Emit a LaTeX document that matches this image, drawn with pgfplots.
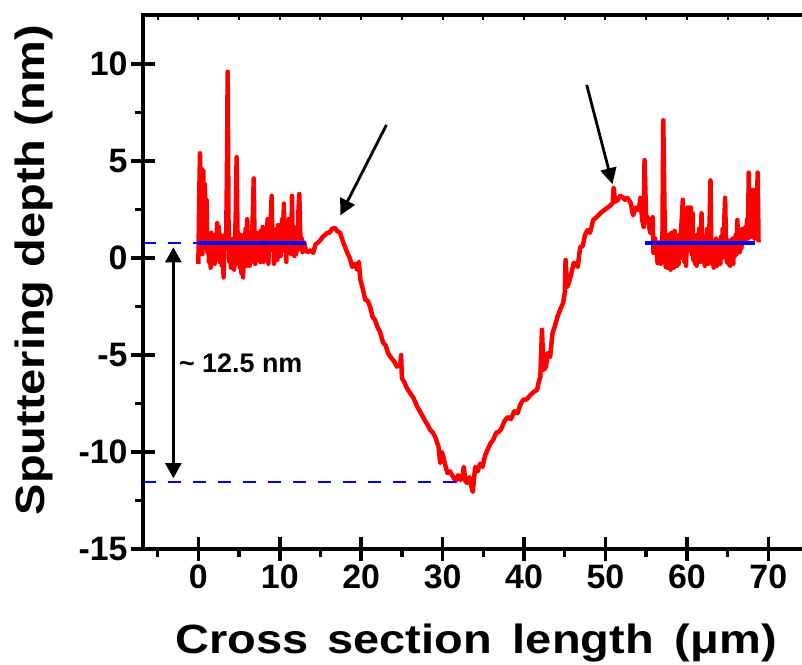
\documentclass[border=0pt]{standalone}
\usepackage{pgfplots}
\pgfplotsset{compat=1.18}
\usepackage{fontspec}
\setmainfont{Liberation Sans}
\newfontfamily\widesans{Liberation Sans}[FakeStretch=1.15]
\usetikzlibrary{arrows.meta}

\newcommand{\tickfont}{\fontsize{34}{40}\selectfont\bfseries}
\newcommand{\labfont}{\widesans\fontsize{41}{48}\selectfont\bfseries}

\begin{document}
\begin{tikzpicture}
\useasboundingbox (-143bp,-116bp) rectangle (659bp,549bp);
\clip (-143bp,-116bp) rectangle (659bp,549bp);
\begin{axis}[
    at={(0,0)}, anchor=south west,
    scale only axis,
    width=666bp, height=533.5bp,
    xmin=-6.8, xmax=75,
    ymin=-15, ymax=12.5,
    xtick={0,10,...,70},
    minor xtick={-5,5,...,75},
    ytick={-15,-10,...,10},
    minor ytick={-12.5,-7.5,...,7.5},
    xtick pos=bottom, ytick pos=left,
    tick align=center,
    major tick length=24bp, minor tick length=8bp,
    minor x tick style={yshift=-4bp},
    minor y tick style={xshift=-4bp},
    axis line style={line width=4bp},
    tick style={line width=3.5bp, black},
    ticklabel style={font=\tickfont},
    /pgf/number format/assume math mode=true,
    xlabel={Cross\hspace{6bp} section\hspace{8bp} length\hspace{8bp} (μm)},
    ylabel={Sputtering depth (nm)},
    xlabel style={at={(axis description cs:0.5,-0.1968)}, anchor=base, font=\labfont},
    ylabel style={at={(axis description cs:-0.1637,0.523)}, anchor=center, font=\labfont},
]
% measured profile
\addplot[red, line width=4.5bp, line join=round] coordinates {
(0.00,-0.3) (0.10,3.0) (0.20,5.4) (0.30,1.0) (0.40,4.6) (0.50,0.2) (0.60,4.5) (0.70,2.0)
(0.80,3.8) (0.90,0.5) (1.00,3.0) (1.10,0.3) (1.20,1.2) (1.30,-0.2) (1.40,1.0) (1.50,-0.5)
(1.60,1.3) (1.70,0.0) (1.80,1.0) (1.90,0.6) (2.00,-0.3) (2.10,1.2) (2.20,0.1) (2.30,1.8)
(2.40,0.3) (2.50,1.6) (2.60,-0.2) (2.70,1.2) (2.80,0.5) (2.90,-0.4) (3.00,0.3) (3.10,-1.0)
(3.20,0.8) (3.30,1.2) (3.40,0.5) (3.50,4.0) (3.60,9.6) (3.70,2.0) (3.80,-0.2) (3.90,0.7)
(4.00,-0.5) (4.10,0.9) (4.20,-0.4) (4.30,1.0) (4.40,-0.6) (4.50,0.8) (4.60,2.5) (4.70,5.2)
(4.80,1.5) (4.90,-0.3) (5.00,0.9) (5.10,-0.5) (5.20,1.2) (5.30,-0.8) (5.40,0.4) (5.50,-1.0)
(5.60,0.7) (5.70,0.1) (5.80,1.5) (5.90,-0.4) (6.00,2.0) (6.10,0.2) (6.20,1.0) (6.30,-0.4)
(6.40,1.3) (6.50,-0.2) (6.60,1.0) (6.70,2.5) (6.80,4.1) (6.90,0.8) (7.00,-0.3) (7.10,1.2)
(7.20,-0.1) (7.30,1.3) (7.40,0.0) (7.50,1.1) (7.60,-0.2) (7.70,1.4) (7.80,0.2) (7.90,1.6)
(8.00,-0.2) (8.10,0.9) (8.20,0.1) (8.30,1.2) (8.40,0.5) (8.50,2.0) (8.60,-0.3) (8.70,1.5)
(8.80,0.4) (8.90,2.0) (9.00,3.2) (9.10,0.5) (9.20,1.2) (9.30,-0.3) (9.40,1.0) (9.50,0.2)
(9.60,1.5) (9.70,-0.1) (9.80,1.7) (9.90,0.3) (10.00,1.2) (10.10,0.1) (10.20,1.0) (10.30,2.0)
(10.40,0.4) (10.50,2.8) (10.60,0.4) (10.70,1.4) (10.80,-0.2) (10.90,1.2) (11.00,0.3) (11.10,2.0)
(11.20,0.8) (11.30,1.4) (11.40,0.2) (11.50,3.2) (11.60,0.6) (11.70,1.6) (11.80,0.1) (11.90,1.3)
(12.00,0.2) (12.10,1.5) (12.20,0.4) (12.30,2.5) (12.40,3.3) (12.50,1.4) (12.60,0.6) (12.70,1.0)
(12.80,0.3) (12.90,0.6) (13.00,0.8) (13.20,0.4) (13.40,0.3) (13.60,0.35) (13.80,0.4) (14.10,0.26)
(14.40,0.7) (14.70,0.8) (15.00,0.93) (15.30,1.1) (15.60,1.2) (15.80,1.29) (16.10,1.3) (16.40,1.5)
(16.80,1.55) (17.00,1.4) (17.40,1.3) (17.80,0.8) (18.30,0.26) (18.60,0.0) (18.90,-0.46) (19.20,-0.3)
(19.50,-0.6) (19.70,-0.2) (19.90,-1.13) (20.20,-1.6) (20.50,-2.16) (20.80,-2.2) (21.10,-2.53) (21.40,-3.04)
(21.70,-3.2) (22.00,-3.56) (22.30,-3.8) (22.70,-4.38) (23.00,-4.5) (23.30,-4.9) (23.60,-5.1) (24.00,-5.3)
(24.40,-5.6) (24.80,-5.5) (24.90,-5.0) (25.00,-6.2) (25.30,-6.4) (25.60,-6.7) (26.00,-6.96) (26.40,-7.2)
(26.90,-7.68) (27.20,-7.9) (27.60,-8.2) (28.00,-8.5) (28.50,-8.87) (28.80,-9.0) (29.10,-9.23) (29.50,-9.74)
(29.70,-10.57) (29.90,-10.0) (30.10,-10.26) (30.40,-10.8) (30.60,-11.08) (30.90,-11.0) (31.30,-11.29) (31.60,-11.5)
(31.90,-11.2) (32.20,-11.44) (32.50,-11.1) (32.60,-10.77) (32.80,-11.5) (33.00,-11.6) (33.30,-11.3) (33.50,-11.7)
(33.70,-12.06) (33.90,-11.2) (34.00,-10.77) (34.30,-11.0) (34.60,-10.6) (34.90,-10.77) (35.20,-10.2) (35.50,-9.9)
(35.90,-9.54) (36.20,-9.38) (36.60,-9.0) (36.90,-8.97) (37.20,-8.8) (37.60,-8.4) (38.00,-8.2) (38.40,-8.3)
(38.80,-7.9) (39.20,-8.0) (39.50,-7.6) (39.90,-7.3) (40.30,-7.3) (40.80,-7.06) (41.20,-6.9) (41.60,-6.8)
(41.80,-6.4) (42.00,-6.13) (42.20,-3.7) (42.40,-5.77) (42.70,-5.6) (42.90,-4.9) (43.20,-5.1) (43.50,-3.87)
(43.80,-3.5) (44.10,-3.04) (44.50,-2.6) (44.80,-2.32) (45.00,-1.8) (45.10,-0.1) (45.30,-1.5) (45.50,-1.29)
(45.80,-0.8) (46.10,-0.26) (46.40,-0.3) (46.60,-0.46) (46.90,0.57) (47.20,0.6) (47.50,1.2) (47.80,1.44)
(48.10,1.3) (48.50,1.96) (48.90,2.1) (49.40,2.32) (49.80,2.45) (50.20,2.58) (50.60,2.7) (50.90,2.84)
(51.00,3.6) (51.20,2.9) (51.50,2.99) (51.80,3.2) (52.10,3.14) (52.40,3.0) (52.70,3.1) (53.10,2.84)
(53.40,2.2) (53.70,2.6) (54.10,2.47) (54.30,3.1) (54.50,2.0) (54.70,1.6) (54.80,5.05) (55.00,2.0)
(55.20,2.1) (55.50,1.29) (55.80,2.1) (55.90,0.26) (56.10,1.0) (56.40,-0.26) (56.60,0.8) (56.80,-0.3)
(57.00,1.0) (57.10,7.1) (57.30,1.0) (57.40,-0.46) (57.50,0.8) (57.60,-0.5) (57.70,1.2) (57.80,-0.3)
(57.90,0.9) (58.00,-0.6) (58.10,1.3) (58.20,-0.2) (58.30,0.7) (58.40,-0.5) (58.50,1.4) (58.60,-0.1)
(58.70,0.8) (58.80,-0.4) (58.90,1.0) (59.00,-0.3) (59.10,1.2) (59.20,0.0) (59.30,1.5) (59.40,2.2)
(59.50,3.0) (59.60,1.0) (59.70,-0.2) (59.80,0.9) (59.90,-0.4) (60.00,1.3) (60.10,2.6) (60.20,0.4)
(60.30,2.6) (60.40,1.0) (60.50,2.6) (60.60,0.2) (60.70,2.3) (60.80,-0.1) (60.90,1.1) (61.00,-0.3)
(61.10,0.8) (61.20,-0.4) (61.30,1.2) (61.40,0.1) (61.50,1.5) (61.60,-0.2) (61.70,0.9) (61.80,2.3)
(61.90,0.6) (62.00,-0.2) (62.10,0.9) (62.20,-0.4) (62.30,1.1) (62.40,0.2) (62.50,1.5) (62.60,-0.3)
(62.70,0.8) (62.80,2.0) (62.90,4.0) (63.00,0.5) (63.10,-0.3) (63.20,0.9) (63.30,-0.5) (63.40,0.6)
(63.50,-0.1) (63.60,1.0) (63.70,-0.4) (63.80,0.5) (63.90,-0.2) (64.00,0.8) (64.10,-0.3) (64.20,1.1)
(64.30,0.0) (64.40,1.5) (64.50,0.2) (64.60,2.0) (64.70,3.1) (64.80,0.8) (64.90,-0.2) (65.00,0.6)
(65.10,-0.3) (65.20,0.9) (65.30,-0.4) (65.40,0.7) (65.50,0.0) (65.60,1.0) (65.70,-0.3) (65.80,0.8)
(65.90,0.1) (66.00,1.2) (66.10,0.2) (66.20,1.96) (66.30,0.6) (66.40,1.3) (66.50,0.3) (66.60,1.2)
(66.70,0.5) (66.80,1.5) (66.90,0.8) (67.00,1.4) (67.10,0.9) (67.20,1.6) (67.30,1.2) (67.40,2.0)
(67.50,1.0) (67.60,4.4) (67.70,1.3) (67.80,2.0) (67.90,1.1) (68.00,3.5) (68.10,1.2) (68.20,3.5)
(68.30,1.0) (68.50,1.4) (68.70,4.4) (68.80,0.8)
};
% reference levels
\addplot[blue, line width=3.2bp] coordinates {(0,0.77) (13.2,0.77)};
\addplot[blue, line width=3.2bp] coordinates {(54.9,0.77) (68.4,0.77)};
\addplot[blue, line width=2.6bp, dash pattern=on 13bp off 12bp] coordinates {(-6.8,0.77) (0,0.77)};
\addplot[blue, line width=2.6bp, dash pattern=on 13bp off 12bp] coordinates {(-6.8,-11.55) (33,-11.55)};
% annotations
\draw[line width=2.6bp, {Triangle[length=15bp,width=16bp]}-{Triangle[length=15bp,width=16bp]}]
    (axis cs:-3.07,0.55) -- (axis cs:-3.07,-11.35);
\node[anchor=west, font=\fontsize{27}{32}\selectfont\bfseries, inner sep=0pt]
    at (axis cs:-2.4,-5.45) {\textasciitilde\ 12.5 nm};
\draw[line width=2.8bp, -{Triangle[length=16bp,width=16bp]}]
    (axis cs:23.1,6.86) -- (axis cs:17.44,2.2);
\draw[line width=2.8bp, -{Triangle[length=16bp,width=16bp]}]
    (axis cs:47.7,8.92) -- (axis cs:50.86,3.81);
\end{axis}
% small inward ticks along the top edge
\begin{axis}[
    at={(0,0)}, anchor=south west,
    scale only axis,
    width=666bp, height=533.5bp,
    xmin=-6.8, xmax=75,
    ymin=-15, ymax=12.5,
    hide y axis,
    axis x line*=top,
    axis line style={draw=none},
    xtick={-5,0,...,75},
    xticklabels={},
    tick align=inside,
    major tick length=5bp,
    tick style={line width=2bp, black},
]
\end{axis}
\end{tikzpicture}
\end{document}
